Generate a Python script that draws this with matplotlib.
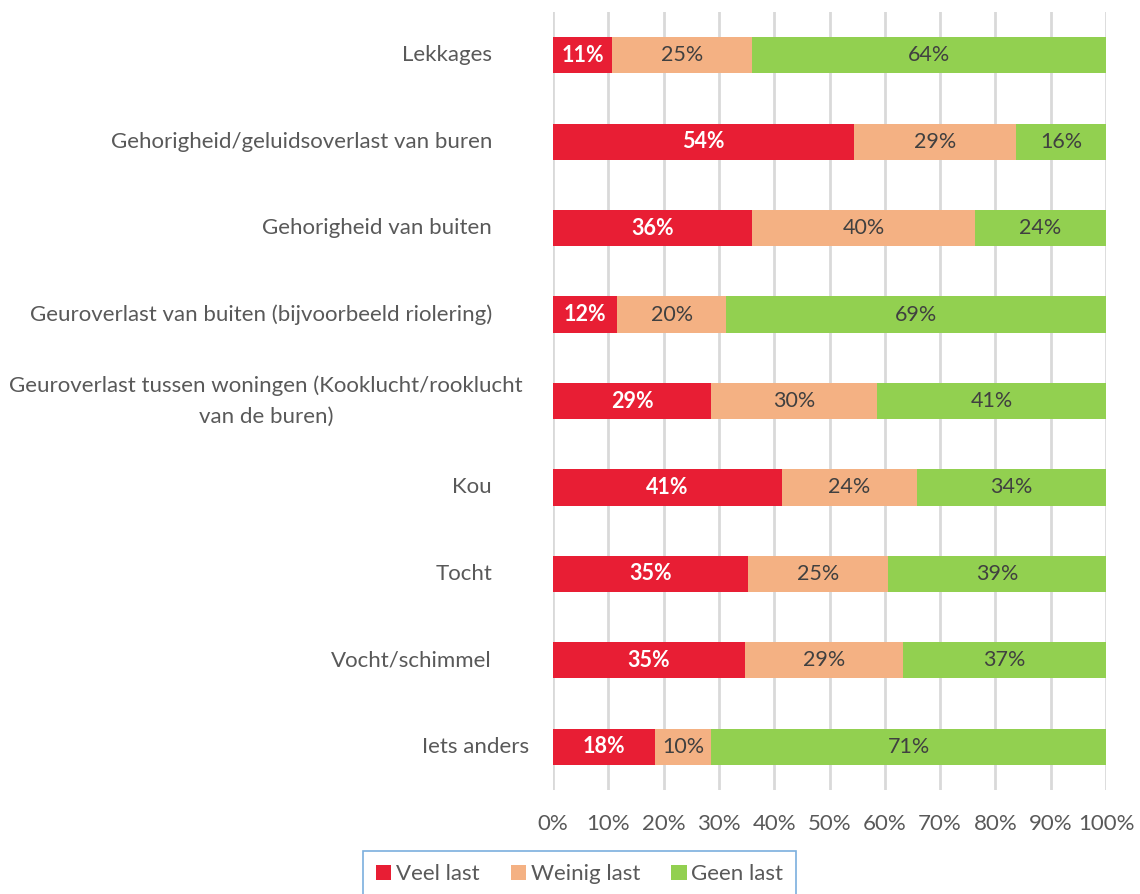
import matplotlib
matplotlib.use("Agg")
import matplotlib.pyplot as plt
import numpy as np
from matplotlib.ticker import FuncFormatter

# data (percent), top to bottom
categories = [
    "Lekkages",
    "Gehorigheid/geluidsoverlast van buren",
    "Gehorigheid van buiten",
    "Geuroverlast van buiten (bijvoorbeeld riolering)",
    "Geuroverlast tussen woningen (Kooklucht/rooklucht\nvan de buren)",
    "Kou",
    "Tocht",
    "Vocht/schimmel",
    "Iets anders",
]
veel = [10.7, 54.4, 36.0, 11.6, 28.6, 41.4, 35.3, 34.7, 18.4]
weinig = [25.3, 29.3, 40.3, 19.7, 30.0, 24.4, 25.3, 28.6, 10.2]
geen = [64.0, 16.3, 23.7, 68.7, 41.4, 34.2, 39.4, 36.7, 71.4]
series_names = ["Veel last", "Weinig last", "Geen last"]

colors = ["#E81E34", "#F4B183", "#92D050"]
plt.rcParams['font.family'] = ['Lato', 'DejaVu Sans']
txt = "#595959"

fig = plt.figure(figsize=(11.4, 8.94), dpi=100)
ax = fig.add_axes([553/1140, 1-790/894, (1106-553)/1140, 778/894])

y = np.arange(len(categories))
left = np.zeros(len(categories))
for vals, name, col in zip([veel, weinig, geen], series_names, colors):
    vals = np.array(vals)
    ax.barh(y, vals, left=left, height=0.42, color=col, label=name, zorder=3)
    for yi, l, v in zip(y, left, vals):
        if col == colors[0]:
            ax.text(l + v/2, yi, f"{round(v):.0f}%", ha='center', va='center',
                    color='white', fontweight='bold', fontsize=15.5, zorder=4)
        else:
            ax.text(l + v/2, yi, f"{round(v):.0f}%", ha='center', va='center',
                    color="#404040", fontsize=15.5, zorder=4)
    left = left + vals

ax.set_xlim(0, 100)
ax.set_ylim(len(categories) - 0.5, -0.5)
ax.set_xticks(np.arange(0, 101, 10))
ax.xaxis.set_major_formatter(FuncFormatter(lambda v, p: f"{v:.0f}%"))
ax.tick_params(axis='x', length=0, pad=17, labelsize=16, labelcolor=txt)
ax.set_yticks([])
ax.grid(axis='x', color="#D9D9D9", linewidth=2, zorder=0)
for s in ax.spines.values():
    s.set_visible(False)

# category labels
label_x = {4: 523, 8: 529}
for i, c in enumerate(categories):
    xr = label_x.get(i, 492)
    ax.text((xr - 553) / 553 * 1.0, i, c, transform=ax.get_yaxis_transform(),
            ha='right', va='center', multialignment='center',
            fontsize=16, color=txt, linespacing=1.65)

leg = fig.legend(loc='upper center', bbox_to_anchor=(579.5/1140, 1-851/894),
                 ncol=3, frameon=True, fontsize=16, handlelength=0.7,
                 handleheight=0.7, handletextpad=0.2, columnspacing=1.4,
                 borderpad=0.6, borderaxespad=0, fancybox=False)
leg.get_frame().set_edgecolor("#5B9BD5")
leg.get_frame().set_linewidth(1.2)
for t in leg.get_texts():
    t.set_color(txt)

fig.savefig("out.png", dpi=100)
